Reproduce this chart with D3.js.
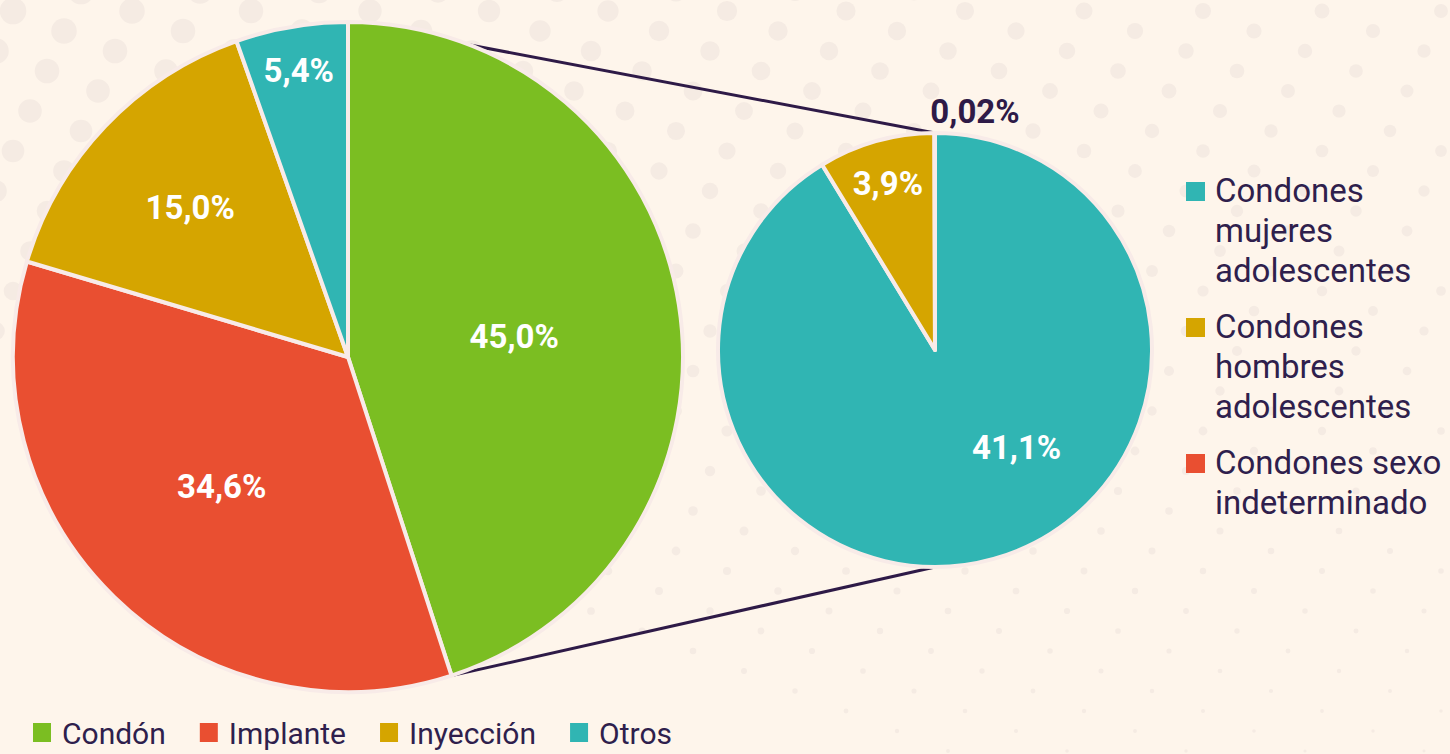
<!DOCTYPE html>
<meta charset="utf-8">
<script src="https://cdn.jsdelivr.net/npm/d3@7"></script>
<title>Métodos anticonceptivos</title>
<style>
body { margin: 0; background: #fef5eb; font-family: Roboto, "Noto Sans", sans-serif; }
svg { display: block; }
.lbl { font-weight: 700; fill: #fff; text-anchor: middle; }
.leg { fill: #2f1f4d; }
</style>
<body>
<svg id="chart" width="1450" height="754"></svg>
<script>

// main pie
var metodos = ["Condón", "Implante", "Inyección", "Otros"];
var metodosPct = [45.0, 34.6, 15.0, 5.4];
var metodosLbl = ["45,0%", "34,6%", "15,0%", "5,4%"];

// breakdown of condón
var condones = ["Condones mujeres adolescentes", "Condones hombres adolescentes", "Condones sexo indeterminado"];
var condonesPct = [41.1, 3.9, 0.02];
var condonesLbl = ["41,1%", "3,9%", "0,02%"];
var condonesLegend = [["Condones", "mujeres", "adolescentes"], ["Condones", "hombres", "adolescentes"], ["Condones sexo", "indeterminado"]];

var colMetodos = d3.scaleOrdinal().domain(metodos).range(["#7bbe22", "#e94f31", "#d5a500", "#30b5b3"]);
var colCondones = d3.scaleOrdinal().domain(condones).range(["#30b5b3", "#d5a500", "#e94f31"]);

var svg = d3.select("#chart"),
    width = +svg.attr("width"),
    height = +svg.attr("height");

var ink = "#2e1a47",
    rim = "#f8ebe8";

// background dots
var dots = [];
for (var j = -2; j < 40; j++) {
  for (var i = -8; i < 14; i++) {
    var x = 13 + 119 * i + 51 * j, y = 11 + 20 * j;
    if (x < -20 || x > width + 20) continue;
    var r = 13.5 * (1 - y / 950) * (1 - x / 3000);
    if (r < 0.8) r = 0.8;
    dots.push({x: x, y: y, r: r});
  }
}
svg.append("g").selectAll("circle")
    .data(dots)
  .enter().append("circle")
    .attr("cx", function(d) { return d.x; })
    .attr("cy", function(d) { return d.y; })
    .attr("r", function(d) { return d.r; })
    .style("fill", "#f5ebe3");

var big = {cx: 348, cy: 357, r: 335},
    small = {cx: 935, cy: 350, r: 217};

var pie = d3.pie().sort(null).value(function(d) { return d.v; });

var bigData = pie(metodos.map(function(m, i) { return {k: m, v: metodosPct[i], t: metodosLbl[i]}; }));
var smallData = pie(condones.map(function(m, i) { return {k: m, v: condonesPct[i], t: condonesLbl[i]}; }));

function polar(c, rad, a) {
  return [c.cx + rad * Math.sin(a), c.cy - rad * Math.cos(a)];
}

// connector lines, behind the pies
var g0 = bigData[0];
var lines = [
  [polar(big, big.r, g0.startAngle), polar(small, small.r, 0)],
  [polar(big, big.r, g0.endAngle), polar(small, small.r, Math.PI)]
];
svg.append("g").selectAll("line")
    .data(lines)
  .enter().append("line")
    .attr("x1", function(d) { return d[0][0]; })
    .attr("y1", function(d) { return d[0][1]; })
    .attr("x2", function(d) { return d[1][0]; })
    .attr("y2", function(d) { return d[1][1]; })
    .style("stroke", ink)
    .style("stroke-width", 3);

function drawPie(c, data, color, labelPos) {
  var arc = d3.arc().innerRadius(0).outerRadius(c.r);
  var g = svg.append("g").attr("transform", "translate(" + c.cx + "," + c.cy + ")");
  g.selectAll("path")
      .data(data)
    .enter().append("path")
      .attr("d", arc)
      .style("fill", function(d) { return color(d.data.k); })
      .style("stroke", rim)
      .style("stroke-width", 4)
      .style("stroke-linejoin", "round");
  g.selectAll("text")
      .data(data)
    .enter().append("text")
      .attr("class", "lbl")
      .attr("transform", function(d, i) {
        var p = labelPos[i],
            a = p.a == null ? (d.startAngle + d.endAngle) / 2 : p.a * Math.PI / 180;
        return "translate(" + (p.f * c.r * Math.sin(a)) + "," + (-p.f * c.r * Math.cos(a)) + ")";
      })
      .attr("dy", "0.36em")
      .style("font-size", "33px")
      .style("fill", function(d, i) { return labelPos[i].out ? ink : "#fff"; })
      .text(function(d) { return d.data.t; });
}

drawPie(big, bigData, colMetodos, [{f: 0.5, a: 83}, {f: 0.54}, {f: 0.65}, {f: 0.87}]);
drawPie(small, smallData, colCondones, [{f: 0.585, a: 140}, {f: 0.8}, {f: 1.117, a: 9.5, out: true}]);

// right legend
var ly = 182;
var rleg = svg.append("g");
condones.forEach(function(k, i) {
  var lns = condonesLegend[i];
  rleg.append("rect")
      .attr("x", 1186).attr("y", ly)
      .attr("width", 19).attr("height", 19)
      .style("fill", colCondones(k));
  lns.forEach(function(t, n) {
    rleg.append("text")
        .attr("class", "leg")
        .attr("x", 1215)
        .attr("y", ly + 20 + n * 40)
        .style("font-size", "33px")
        .text(t);
  });
  ly += lns.length * 40 + 16;
});

// bottom legend
var bx = 33;
var bleg = svg.append("g");
metodos.forEach(function(k) {
  bleg.append("rect")
      .attr("x", bx).attr("y", 723)
      .attr("width", 18).attr("height", 19)
      .style("fill", colMetodos(k));
  var t = bleg.append("text")
      .attr("class", "leg")
      .attr("x", bx + 29)
      .attr("y", 744)
      .style("font-size", "30px")
      .text(k);
  bx += 29 + t.node().getComputedTextLength() + 34;
});

</script>
</body>
